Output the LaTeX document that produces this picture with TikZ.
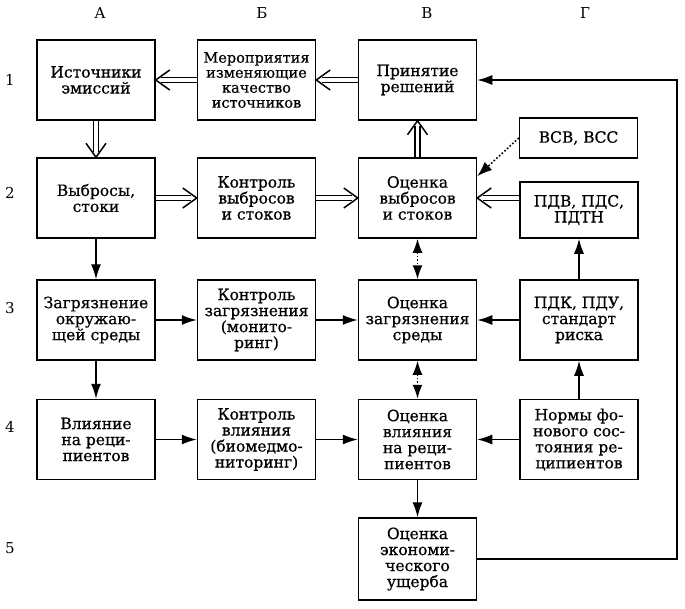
\documentclass[tikz,border=0pt]{standalone}
\usepackage{fontspec}
\setmainfont{DejaVu Serif}[BoldFont=DejaVu Serif, BoldFeatures={FakeBold=0.6}]
\usetikzlibrary{arrows.meta}

\pgfdeclarearrow{
  name = Hollow,
  parameters = {\the\pgfarrowlength,\the\pgfarrowwidth},
  setup code = {
    \pgfarrowssettipend{0pt}
    \pgfarrowssetlineend{-0.4\pgfarrowlength}
    \pgfarrowssetbackend{-\pgfarrowlength}
    \pgfarrowssavethe\pgfarrowlength
    \pgfarrowssavethe\pgfarrowwidth
  },
  drawing code = {
    \pgfsetlinewidth{1.5pt}
    \pgfsetdash{}{0pt}
    \pgfpathmoveto{\pgfqpoint{-\pgfarrowlength}{.5\pgfarrowwidth}}
    \pgfpathlineto{\pgfqpoint{0pt}{0pt}}
    \pgfpathlineto{\pgfqpoint{-\pgfarrowlength}{-.5\pgfarrowwidth}}
    \pgfusepathqstroke
  },
  defaults = {length = 14pt, width = 20pt}
}

\begin{document}
\begin{tikzpicture}[
      x=1pt, y=-1pt,
      blk/.style={draw, line width=1.5pt, minimum width=118pt, minimum height=80pt,
                  inner sep=1pt, align=center, font=\fontsize{15.5}{16}\selectfont\bfseries},
      dbl/.style={double, double distance=3.5pt, line width=1.5pt, -{Hollow}},
      arr/.style={line width=1.4pt, -{Latex[length=15pt,width=10pt]}},
      dotarr/.style={line width=1.6pt, dotted, -{Latex[length=15pt,width=11pt]}},
      dotboth/.style={line width=1.6pt, dotted,
                      {Latex[length=14pt,width=10pt]}-{Latex[length=14pt,width=10pt]}},
      lbl/.style={font=\fontsize{15}{15}\selectfont}
    ]
      \useasboundingbox (0,0) rectangle (685,608);
      \foreach \x/\t [count=\i] in {100/А,262/Б,427/В,585/Г}
        \node[lbl] (col\i) at (\x,13) {\t};
      \foreach \y [count=\i] in {80,193,308,427,548}
        \node[lbl] (row\i) at (10,\y) {\i};

      \node[blk] (ist) at (96,80) {Источники\\эмиссий};
      \node[blk, font=\fontsize{14.5}{15}\selectfont\bfseries] (mer) at (256.5,80)
        {Мероприятия\\изменяющие\\качество\\источников};
      \node[blk] (pr) at (417.5,80) {Принятие\\решений};
      \node[blk, minimum height=40pt] (vsv) at (578.5,138) {ВСВ, ВСС};

      \node[blk] (vyb) at (96,198) {Выбросы,\\стоки};
      \node[blk] (kvs) at (256.5,198) {Контроль\\выбросов\\и стоков};
      \node[blk] (ovs) at (417.5,198) {Оценка\\выбросов\\и стоков};
      \node[blk, minimum height=56pt] (pdv) at (579,210) {ПДВ, ПДС,\\ПДТН};

      \node[blk] (zag) at (96,320) {Загрязнение\\окружаю-\\щей среды};
      \node[blk] (kz) at (256.5,320) {Контроль\\загрязнения\\(монито-\\ринг)};
      \node[blk] (oz) at (417.5,320) {Оценка\\загрязнения\\среды};
      \node[blk] (pdk) at (579,320) {ПДК, ПДУ,\\стандарт\\риска};

      \node[blk] (vl) at (96,439.5) {Влияние\\на реци-\\пиентов};
      \node[blk] (kvl) at (256.5,439.5) {Контроль\\влияния\\(биомедмо-\\ниторинг)};
      \node[blk] (ovl) at (417.5,439.5) {Оценка\\влияния\\на реци-\\пиентов};
      \node[blk] (norm) at (579,439.5) {Нормы фо-\\нового сос-\\тояния ре-\\ципиентов};

      \node[blk, minimum height=82pt] (ek) at (417.5,559) {Оценка\\экономи-\\ческого\\ущерба};
      \coordinate (fb) at (677,80);

      \draw[dbl] (mer) -- (ist);
      \draw[dbl] (pr) -- (mer);
      \draw[dbl] (ist) -- (vyb);
      \draw[dbl] (vyb) -- (kvs);
      \draw[dbl] (kvs) -- (ovs);
      \draw[dbl] (ovs) -- (pr);
      \draw[dbl] (pdv.west |- ovs.east) -- (ovs.east);
      \draw[dotarr] (vsv.west) -- (ovs.20);

      \draw[arr] (pdk) -- (pdv);
      \draw[arr] (norm) -- (pdk);
      \draw[arr] (vyb) -- (zag);
      \draw[arr] (zag) -- (vl);
      \draw[arr] (zag) -- (kz);
      \draw[arr] (kz) -- (oz);
      \draw[arr] (pdk) -- (oz);
      \draw[arr] (vl) -- (kvl);
      \draw[arr] (kvl) -- (ovl);
      \draw[arr] (norm) -- (ovl);
      \draw[dotboth] (ovs) -- (oz);
      \draw[dotboth] (oz) -- (ovl);
      \draw[arr] (ovl) -- (ek);
      \draw[arr] (ek.east) -| (fb) -- (pr.east);
    \end{tikzpicture}
\end{document}
